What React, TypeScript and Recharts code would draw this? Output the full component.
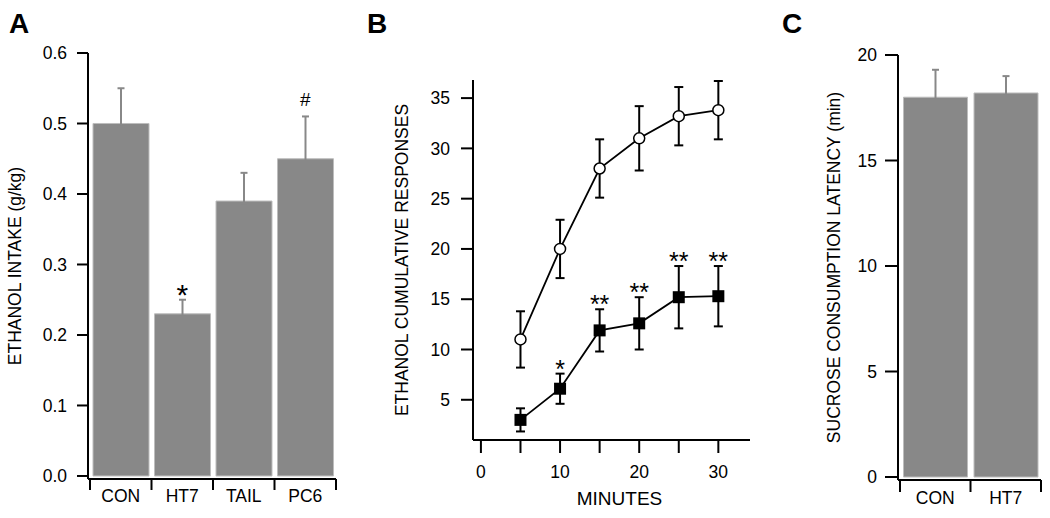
import React from 'react';
import {
  ComposedChart,
  Bar,
  Line,
  Scatter,
  XAxis,
  YAxis,
  ErrorBar,
} from 'recharts';

// ---------- Panel A data ----------
const groupsA = ['CON', 'HT7', 'TAIL', 'PC6'];
const intakeA = [0.5, 0.23, 0.39, 0.45];
const intakeErrA = [0.05, 0.02, 0.04, 0.06];
const sigA = ['', '*', '', '#'];
const yTicksA = [0, 0.1, 0.2, 0.3, 0.4, 0.5, 0.6];

// ---------- Panel B data ----------
const minutesB = [5, 10, 15, 20, 25, 30];
const controlB = [11.0, 20.0, 28.0, 31.0, 33.2, 33.8];
const controlErrB = [2.8, 2.9, 2.9, 3.2, 2.9, 2.9];
const ht7B = [3.0, 6.1, 11.9, 12.6, 15.2, 15.3];
const ht7ErrB = [1.15, 1.5, 2.1, 2.6, 3.1, 3.0];
const sigB = ['', '*', '**', '**', '**', '**'];
const xTicksB = [0, 5, 10, 15, 20, 25, 30];
const yTicksB = [5, 10, 15, 20, 25, 30, 35];

// ---------- Panel C data ----------
const groupsC = ['CON', 'HT7'];
const latencyC = [18.0, 18.2];
const latencyErrC = [1.3, 0.8];
const yTicksC = [0, 5, 10, 15, 20];

// one-sided (upper) error bars: the lower end is tucked just inside the bar
const HIDE_A = 0.004;
const HIDE_C = 0.13;

const tableA = groupsA.map((g, i) => ({
  group: g,
  value: intakeA[i],
  err: [HIDE_A, intakeErrA[i]],
  top: intakeA[i] + intakeErrA[i],
  sig: sigA[i],
}));

const tableB = minutesB.map((m, i) => ({
  minute: m,
  control: controlB[i],
  controlErr: controlErrB[i],
  ht7: ht7B[i],
  ht7Err: ht7ErrB[i],
  ht7Top: ht7B[i] + ht7ErrB[i],
  sig: sigB[i],
}));

const tableC = groupsC.map((g, i) => ({
  group: g,
  value: latencyC[i],
  err: [HIDE_C, latencyErrC[i]],
}));

const FONT = '"Liberation Sans", Arial, Helvetica, sans-serif';
const BAR_FILL = '#888888';
const BAR_EDGE = '#bdbdbd';
const AX = { stroke: '#000', strokeWidth: 2 };
const PAD = 2;

const makeBandTick = (tickLen: number, fontSize: number) => (props: any) => {
  const { x, y, payload, index, visibleTicksCount, width } = props;
  const band = (width - PAD) / visibleTicksCount;
  const axisY = y - tickLen;
  const left = x - band / 2;
  const right = x + band / 2;
  return (
    <g>
      <line x1={left} x2={left} y1={axisY} y2={axisY + tickLen} stroke="#000" strokeWidth={2} />
      {index === visibleTicksCount - 1 && (
        <line x1={right} x2={right} y1={axisY} y2={axisY + tickLen} stroke="#000" strokeWidth={2} />
      )}
      <text x={x} y={y} dy="0.71em" textAnchor="middle" fontSize={fontSize} fill="#000" fontFamily={FONT}>
        {payload.value}
      </text>
    </g>
  );
};

const sigShapeA = (p: any) => {
  const s = p.payload?.sig;
  if (!s) return <g />;
  if (s === '#') {
    return (
      <text x={p.cx} y={p.cy - 10} textAnchor="middle" fontSize={19} fill="#000" fontFamily={FONT}>
        {s}
      </text>
    );
  }
  return (
    <text x={p.cx} y={p.cy + 5} textAnchor="middle" fontSize={30} fill="#000" fontFamily={FONT}>
      {s}
    </text>
  );
};

const sigShapeB = (p: any) => {
  const s = p.payload?.sig;
  if (!s) return <g />;
  return (
    <text x={p.cx} y={p.cy + 4} textAnchor="middle" fontSize={25} fill="#000" fontFamily={FONT}>
      {s}
    </text>
  );
};

const squareDot = (p: any) => (
  <rect key={`sq-${p.index}`} x={p.cx - 6} y={p.cy - 6} width={12} height={12} fill="#000" />
);

const yLabel = (text: string, offset: number) => ({
  value: text,
  angle: -90,
  position: 'insideLeft' as const,
  offset,
  fill: '#000',
  fontSize: 17.5,
  style: { textAnchor: 'middle' },
});

export default function App() {
  return (
    <div style={{ position: 'absolute', left: 0, top: 0, width: 1050, height: 518, background: '#fff', fontFamily: FONT }}>
      {/* Panel A */}
      <div style={{ position: 'absolute', left: 0, top: 0 }}>
        <ComposedChart width={350} height={518} data={tableA} margin={{ top: 53, right: 14, bottom: 0, left: 0 }} barCategoryGap={3}>
          <XAxis
            dataKey="group"
            type="category"
            padding={{ left: PAD, right: 0 }}
            axisLine={AX}
            tickLine={false}
            tickSize={11}
            tickMargin={0}
            height={39}
            interval={0}
            tick={makeBandTick(11, 17.5)}
          />
          <YAxis
            type="number"
            domain={[-0.0043, 0.6]}
            allowDataOverflow
            ticks={yTicksA}
            width={88}
            axisLine={AX}
            tickLine={AX}
            tickSize={11}
            tickMargin={10}
            tick={{ fill: '#000', fontSize: 17.5 }}
            tickFormatter={(v: number) => v.toFixed(1)}
            label={yLabel('ETHANOL INTAKE (g/kg)', 15)}
          />
          <Bar dataKey="value" fill={BAR_FILL} stroke={BAR_EDGE} strokeWidth={1} isAnimationActive={false}>
            <ErrorBar dataKey="err" direction="y" width={3.5} stroke={BAR_FILL} strokeWidth={2} />
          </Bar>
          <Scatter dataKey="top" shape={sigShapeA} isAnimationActive={false} />
        </ComposedChart>
      </div>

      {/* Panel B */}
      <div style={{ position: 'absolute', left: 360, top: 0 }}>
        <ComposedChart width={410} height={518} data={tableB} margin={{ top: 80, right: 20, bottom: 0, left: 0 }}>
          <XAxis
            dataKey="minute"
            type="number"
            domain={[-1, 34]}
            allowDataOverflow
            ticks={xTicksB}
            interval={0}
            axisLine={AX}
            tickLine={AX}
            tickSize={13}
            tickMargin={13}
            height={78}
            tick={{ fill: '#000', fontSize: 17.5 }}
            tickFormatter={(v: number) => (v % 10 === 0 ? String(v) : '')}
            label={{ value: 'MINUTES', position: 'insideBottom', offset: 13, fill: '#000', fontSize: 19, dx: 8 }}
          />
          <YAxis
            type="number"
            domain={[1, 36.8]}
            allowDataOverflow
            ticks={yTicksB}
            width={113}
            axisLine={AX}
            tickLine={AX}
            tickSize={12}
            tickMargin={11}
            tick={{ fill: '#000', fontSize: 17.5 }}
            label={yLabel('ETHANOL CUMULATIVE RESPONSES', 42)}
          />
          <Line
            dataKey="control"
            stroke="#000"
            strokeWidth={1.8}
            dot={{ r: 5.5, fill: '#fff', stroke: '#000', strokeWidth: 1.5 }}
            isAnimationActive={false}
          >
            <ErrorBar dataKey="controlErr" direction="y" width={4.5} stroke="#000" strokeWidth={2} />
          </Line>
          <Line dataKey="ht7" stroke="#000" strokeWidth={1.8} dot={squareDot} isAnimationActive={false}>
            <ErrorBar dataKey="ht7Err" direction="y" width={4.5} stroke="#000" strokeWidth={2} />
          </Line>
          <Scatter dataKey="ht7Top" shape={sigShapeB} isAnimationActive={false} />
        </ComposedChart>
      </div>

      {/* Panel C */}
      <div style={{ position: 'absolute', left: 770, top: 0 }}>
        <ComposedChart width={280} height={518} data={tableC} margin={{ top: 55, right: 9, bottom: 0, left: 0 }} barCategoryGap={3.5}>
          <XAxis
            dataKey="group"
            type="category"
            padding={{ left: PAD, right: 0 }}
            axisLine={AX}
            tickLine={false}
            tickSize={12}
            tickMargin={0}
            height={38}
            interval={0}
            tick={makeBandTick(12, 17.5)}
          />
          <YAxis
            type="number"
            domain={[-0.142, 20]}
            allowDataOverflow
            ticks={yTicksC}
            width={128}
            axisLine={AX}
            tickLine={AX}
            tickSize={13}
            tickMargin={8}
            tick={{ fill: '#000', fontSize: 17.5 }}
            label={yLabel('SUCROSE CONSUMPTION LATENCY (min)', 64)}
          />
          <Bar dataKey="value" fill={BAR_FILL} stroke={BAR_EDGE} strokeWidth={1} isAnimationActive={false}>
            <ErrorBar dataKey="err" direction="y" width={3.5} stroke={BAR_FILL} strokeWidth={2} />
          </Bar>
        </ComposedChart>
      </div>

      {/* Panel letters */}
      <svg width={1050} height={518} style={{ position: 'absolute', left: 0, top: 0, pointerEvents: 'none' }}>
        <text x={9} y={33} fontSize={28} fontWeight="bold" fill="#000" fontFamily={FONT}>A</text>
        <text x={367} y={33} fontSize={28} fontWeight="bold" fill="#000" fontFamily={FONT}>B</text>
        <text x={782} y={33} fontSize={28} fontWeight="bold" fill="#000" fontFamily={FONT}>C</text>
      </svg>
    </div>
  );
}
